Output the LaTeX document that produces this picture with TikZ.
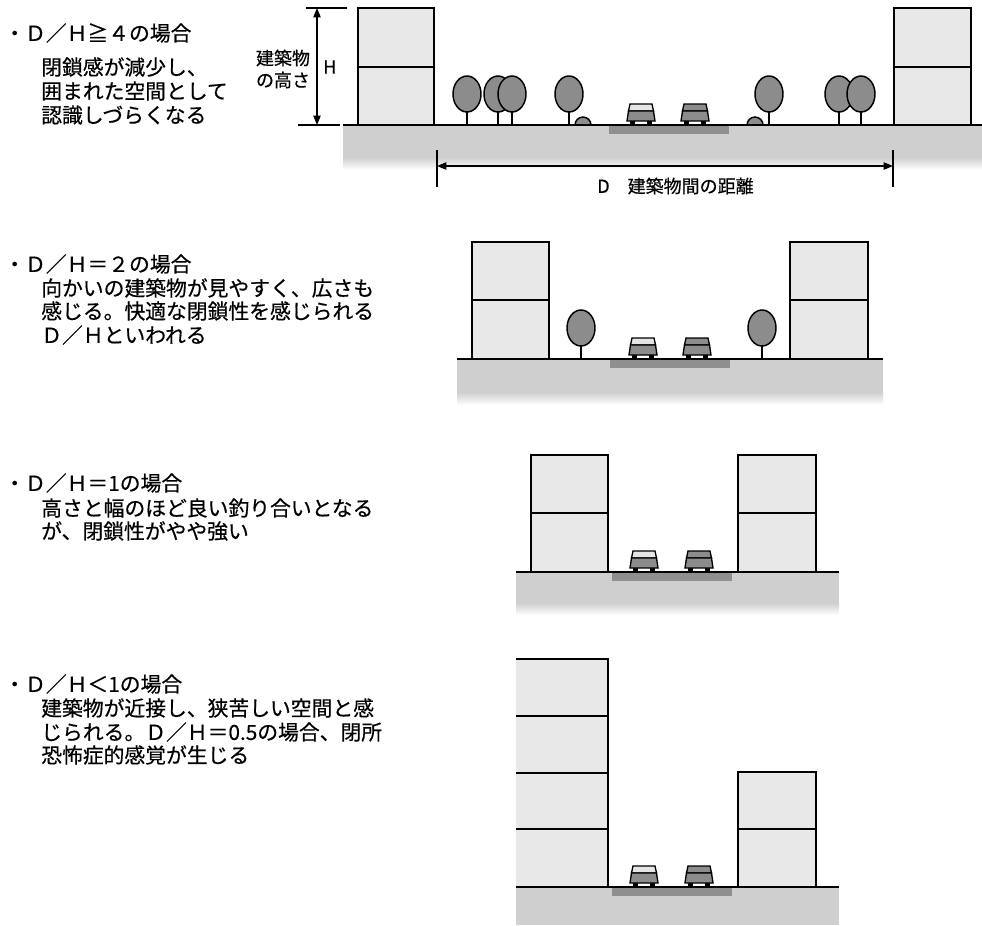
\documentclass[tikz,border=0pt]{standalone}
\usepackage{fontspec}
\setmainfont{Noto Sans CJK JP}[FakeBold=0.5]
\usetikzlibrary{arrows.meta}

\definecolor{wallgray}{gray}{0.91}
\definecolor{groundgray}{gray}{0.81}
\definecolor{roadgray}{gray}{0.56}
\definecolor{leafgray}{gray}{0.55}
\definecolor{glassgray}{gray}{0.90}

\tikzset{
  wall/.style={draw=black, fill=wallgray, line width=1.3pt},
  floorline/.style={line width=1.3pt},
  groundline/.style={line width=1.8pt},
  leaf/.style={draw=black, fill=leafgray, line width=1.1pt},
  dimline/.style={line width=0.9pt, {Triangle[length=7pt,width=5.5pt]}-{Triangle[length=7pt,width=5.5pt]}},
  casehead/.style={anchor=west, inner sep=0pt, font=\fontsize{15.6}{18}\selectfont},
  caseline/.style={anchor=west, inner sep=0pt, font=\fontsize{15.6}{18}\selectfont},
  dimlabel/.style={inner sep=0pt, font=\fontsize{13.5}{16.5}\selectfont}
}

% tree on the sidewalk: x, ground y
\newcommand{\streettree}[2]{
  \draw[line width=1pt] (#1,#2) -- (#1,#2-13);
  \draw[leaf] (#1,#2-31) ellipse [x radius=14, y radius=18];
}
% low shrub: x, ground y
\newcommand{\shrub}[2]{
  \draw[leaf] (#1-8,#2) arc[start angle=180, end angle=360, radius=8] -- cycle;
}
% car seen from behind: left x, ground y, window colour
\newcommand{\streetcar}[3]{
  \fill (#1+3,#2) rectangle (#1+8,#2-5);
  \fill (#1+20,#2) rectangle (#1+25,#2-5);
  \draw[fill=#3, line width=1pt] (#1+3,#2-21) -- (#1+25,#2-21) -- (#1+26.5,#2-14) -- (#1+1.5,#2-14) -- cycle;
  \draw[fill=leafgray, line width=1pt] (#1+1.5,#2-14) -- (#1+26.5,#2-14) -- (#1+28,#2-4) -- (#1,#2-4) -- cycle;
}

\begin{document}
\begin{tikzpicture}[x=0.75pt,y=-0.75pt]
\useasboundingbox (0,0) rectangle (982,925);
\fill[white] (0,0) rectangle (982,925);

% ---- D/H >= 4 ----
\fill[groundgray] (343,125) rectangle (982,157);
\shade[top color=groundgray, bottom color=white] (343,157) rectangle (982,170);
\fill[roadgray] (609,125) rectangle (729,134);
\draw[wall] (358,8) rectangle (434,125);
\draw[floorline] (358,67) -- (434,67);
\draw[wall] (894,8) rectangle (971,125);
\draw[floorline] (894,67) -- (971,67);
\foreach \x in {467,498,512,569,769,839,861} {
    \streettree{\x}{125}
}
\foreach \x in {583,755} {
    \shrub{\x}{125}
}
\streetcar{627}{125}{glassgray}
\streetcar{681}{125}{leafgray}
\draw[groundline] (343,125) -- (982,125);

% height H
\draw[line width=1pt] (306,8) -- (347,8);
\draw[line width=1pt] (298,125) -- (340,125);
\coordinate (htop) at (317,8);
\coordinate (hbot) at (317,125);
\draw[dimline] (htop) -- (hbot);
\node[dimlabel, align=center] (hname) at (283,69) {建築物\\の高さ};
\node[dimlabel, anchor=west] (hmark) at (323,67) {H};

% distance D
\draw[line width=1pt] (437,150) -- (437,187);
\draw[line width=1pt] (893,150) -- (893,187);
\coordinate (dleft) at (437,166);
\coordinate (dright) at (893,166);
\draw[dimline] (dleft) -- (dright);
\node[dimlabel, anchor=west] (dname) at (597,186) {D　建築物間の距離};

\node[casehead] (caseA) at (4,33) {・Ｄ／Ｈ≧４の場合};
\node[caseline] (caseA1) at (41,67) {閉鎖感が減少し、};
\node[caseline] (caseA2) at (41,91) {囲まれた空間として};
\node[caseline] (caseA3) at (41,115) {認識しづらくなる};

% ---- D/H = 2 ----
\fill[groundgray] (457,359) rectangle (883,392);
\shade[top color=groundgray, bottom color=white] (457,392) rectangle (883,405);
\fill[roadgray] (610,359) rectangle (730,368);
\draw[wall] (472,242) rectangle (549,359);
\draw[floorline] (472,300) -- (549,300);
\draw[wall] (790,242) rectangle (868,359);
\draw[floorline] (790,300) -- (868,300);
\foreach \x in {581,762} {
    \streettree{\x}{359}
}
\streetcar{629}{359}{glassgray}
\streetcar{683}{359}{leafgray}
\draw[groundline] (457,359) -- (883,359);

\node[casehead] (caseB) at (4,264) {・Ｄ／Ｈ＝２の場合};
\node[caseline] (caseB1) at (41,288) {向かいの建築物が見やすく、広さも};
\node[caseline] (caseB2) at (41,311) {感じる。快適な閉鎖性を感じられる};
\node[caseline] (caseB3) at (41,335) {Ｄ／Ｈといわれる};

% ---- D/H = 1 ----
\fill[groundgray] (516,572) rectangle (839,603);
\shade[top color=groundgray, bottom color=white] (516,603) rectangle (839,615);
\fill[roadgray] (612,572) rectangle (732,581);
\draw[wall] (531,455) rectangle (608,572);
\draw[floorline] (531,513) -- (608,513);
\draw[wall] (738,455) rectangle (816,572);
\draw[floorline] (738,513) -- (816,513);
\streetcar{630}{572}{glassgray}
\streetcar{685}{572}{leafgray}
\draw[groundline] (516,572) -- (839,572);

\node[casehead] (caseC) at (4,483) {・Ｄ／Ｈ＝1の場合};
\node[caseline] (caseC1) at (41,508) {高さと幅のほど良い釣り合いとなる};
\node[caseline] (caseC2) at (41,531) {が、閉鎖性がやや強い};

% ---- D/H < 1 ----
\fill[groundgray] (516,887) rectangle (839,925);
\fill[roadgray] (612,887) rectangle (732,896);
\fill[wallgray] (516,659) rectangle (608,887);
\draw[floorline] (516,659) -- (608,659) -- (608,887);
\foreach \y in {716,773,829} {
    \draw[floorline] (516,\y) -- (608,\y);
}
\draw[wall] (738,772) rectangle (816,887);
\draw[floorline] (738,829) -- (816,829);
\streetcar{630}{887}{glassgray}
\streetcar{685}{887}{leafgray}
\draw[groundline] (516,887) -- (839,887);

\node[casehead] (caseD) at (4,684) {・Ｄ／Ｈ＜1の場合};
\node[caseline] (caseD1) at (41,708) {建築物が近接し、狭苦しい空間と感};
\node[caseline] (caseD2) at (41,732) {じられる。Ｄ／Ｈ＝0.5の場合、閉所};
\node[caseline] (caseD3) at (41,755) {恐怖症的感覚が生じる};
\end{tikzpicture}
\end{document}
